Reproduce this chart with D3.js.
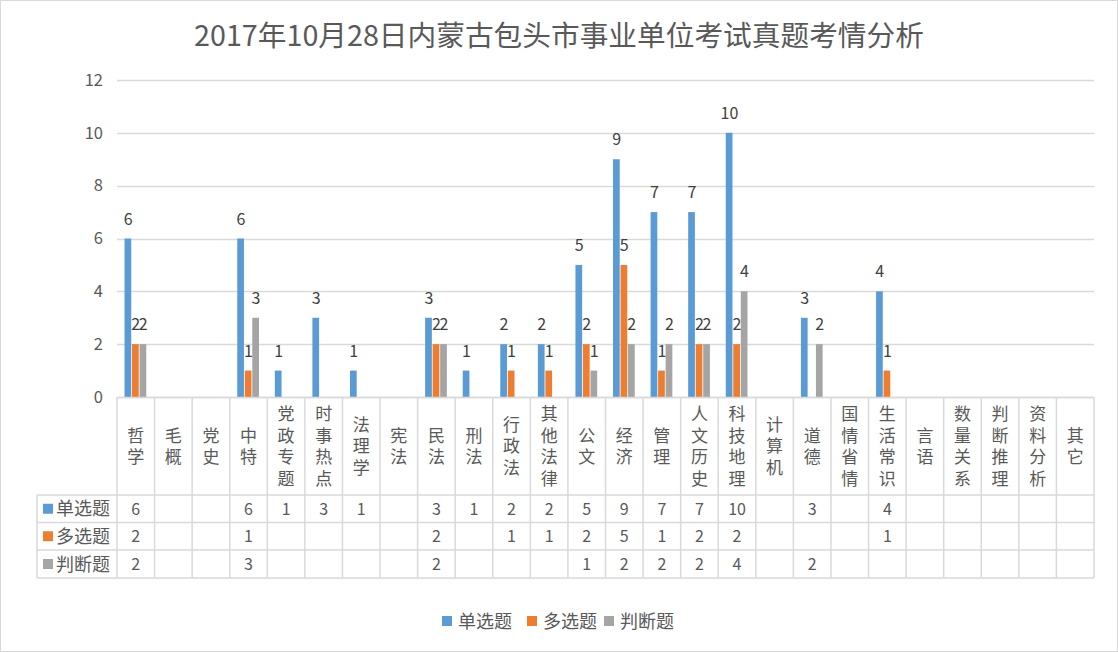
<!DOCTYPE html>
<html><head><meta charset="utf-8">
<script src="https://cdn.jsdelivr.net/npm/d3@7"></script>
<style>
html,body{margin:0;padding:0;background:#fff;}
svg{display:block;font-family:"Noto Sans CJK SC","Noto Sans",sans-serif;}
</style></head>
<body>
<svg id="chart" width="1118" height="652"></svg>
<script>
const title = "2017年10月28日内蒙古包头市事业单位考试真题考情分析";
const categories = ["哲学","毛概","党史","中特","党政专题","时事热点","法理学","宪法","民法","刑法","行政法","其他法律","公文","经济","管理","人文历史","科技地理","计算机","道德","国情省情","生活常识","言语","数量关系","判断推理","资料分析","其它"];
const seriesNames = ["单选题","多选题","判断题"];
const singleChoice = [6,null,null,6,1,3,1,null,3,1,2,2,5,9,7,7,10,null,3,null,4,null,null,null,null,null];
const multiChoice  = [2,null,null,1,null,null,null,null,2,null,1,1,2,5,1,2,2,null,null,null,1,null,null,null,null,null];
const judgeChoice  = [2,null,null,3,null,null,null,null,2,null,null,null,1,2,2,2,4,null,2,null,null,null,null,null,null,null];
const yTicks = [0,2,4,6,8,10,12];
const colors = ["#5b9bd5","#ed7d31","#a5a5a5"];

const seriesValues = [singleChoice, multiChoice, judgeChoice];
const svg = d3.select("#chart");
const W = 1118, H = 652;
const textColor = "#595959";
const gridColor = "#d9d9d9";

// outer border
svg.append("rect").attr("x",0.5).attr("y",0.5).attr("width",W-1).attr("height",H-1)
  .attr("fill","#fff").attr("stroke","#d9d9d9");

// title
svg.append("text").attr("x",559).attr("y",46).attr("text-anchor","middle")
  .attr("font-size",28.7).attr("fill",textColor).text(title);

const plotL = 117, plotR = 1094, yBase = 397, yTop = 80;
const x = d3.scaleBand().domain(categories).range([plotL, plotR]).padding(0);
const bw = x.bandwidth();
const xs = d3.scaleBand().domain(seriesNames).range([bw/5, bw*4/5]).padding(0);
const y = d3.scaleLinear().domain([0,12]).range([yBase, yTop]);

// gridlines
svg.append("g").selectAll("line").data(yTicks).join("line")
  .attr("x1",plotL).attr("x2",plotR)
  .attr("y1",d=>Math.round(y(d))+0.5).attr("y2",d=>Math.round(y(d))+0.5)
  .attr("stroke",gridColor).attr("stroke-width",1.3);

// y axis labels
const yAxis = d3.axisLeft(y).tickValues(yTicks).tickSize(0).tickPadding(0);
const ya = svg.append("g").attr("transform",`translate(${plotL-14},0)`).call(yAxis);
ya.select(".domain").remove();
ya.selectAll("text").attr("font-size",16.5).attr("fill",textColor)
  .attr("font-family","'Noto Sans CJK SC',sans-serif");

// bars
const data = [];
seriesValues.forEach((arr,si)=>arr.forEach((v,ci)=>{ if(v!=null) data.push({c:categories[ci], s:seriesNames[si], si, v}); }));
svg.append("g").selectAll("rect").data(data).join("rect")
  .attr("x",d=>x(d.c)+xs(d.s)).attr("width",xs.bandwidth()-0.8)
  .attr("y",d=>y(d.v)).attr("height",d=>yBase-y(d.v))
  .attr("fill",d=>colors[d.si]);

// data labels
svg.append("g").selectAll("text").data(data).join("text")
  .attr("x",d=>x(d.c)+xs(d.s)+xs.bandwidth()/2).attr("y",d=>y(d.v)-14)
  .attr("text-anchor","middle").attr("font-size",16).attr("fill","#404040")
  .text(d=>d.v);

// data table
const rowTops = [yBase, 495, 522.5, 550, 578];
const tableL = 37;
const tg = svg.append("g");
tg.append("line").attr("x1",plotL).attr("x2",plotR).attr("y1",yBase+0.5).attr("y2",yBase+0.5).attr("stroke",gridColor).attr("stroke-width",1.5);
[495,522.5,550,578].forEach(yy=>{
  tg.append("line").attr("x1",tableL).attr("x2",plotR).attr("y1",yy).attr("y2",yy).attr("stroke",gridColor).attr("stroke-width",1.5);
});
const vx = categories.map(c=>x(c)).concat([plotR]);
vx.forEach(xx=>{
  tg.append("line").attr("x1",xx).attr("x2",xx).attr("y1",yBase).attr("y2",578).attr("stroke",gridColor).attr("stroke-width",1.5);
});
tg.append("line").attr("x1",tableL).attr("x2",tableL).attr("y1",495).attr("y2",578).attr("stroke",gridColor).attr("stroke-width",1.5);

// category headers (vertical text)
const fsH = 17, ls = 4.5;
categories.forEach(c=>{
  const cy = (yBase+495)/2 + ls/2;
  tg.append("text")
    .attr("x",x(c)+bw/2).attr("y",cy)
    .attr("text-anchor","middle")
    .style("writing-mode","vertical-rl")
    .style("letter-spacing",ls+"px")
    .attr("font-size",fsH).attr("fill",textColor).text(c);
});

// series rows
seriesNames.forEach((s,si)=>{
  const top = rowTops[si+1], bot = rowTops[si+2];
  const cy = (top+bot)/2;
  tg.append("rect").attr("x",43).attr("y",cy-5).attr("width",10).attr("height",10).attr("fill",colors[si]);
  tg.append("text").attr("x",56).attr("y",cy+6.5).attr("font-size",18).attr("fill",textColor).text(s);
  seriesValues[si].forEach((v,ci)=>{
    if(v==null) return;
    tg.append("text").attr("x",x(categories[ci])+bw/2).attr("y",cy+6)
      .attr("text-anchor","middle").attr("font-size",16).attr("fill",textColor).text(v);
  });
});

// legend
const lg = svg.append("g");
const legendX = [442, 527, 604];
seriesNames.forEach((s,si)=>{
  lg.append("rect").attr("x",legendX[si]).attr("y",616).attr("width",10).attr("height",10).attr("fill",colors[si]);
  lg.append("text").attr("x",legendX[si]+16).attr("y",627.5).attr("font-size",18).attr("fill",textColor).text(s);
});
</script>
</body></html>
